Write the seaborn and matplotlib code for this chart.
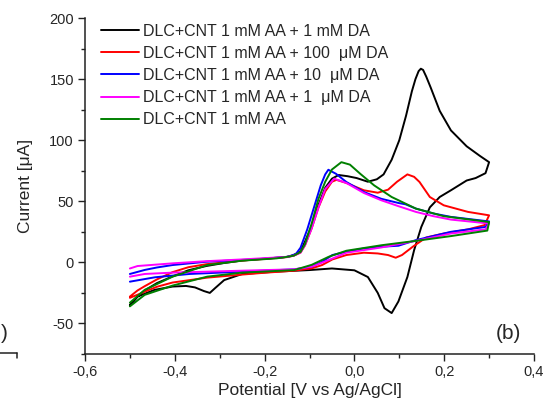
import numpy as np
import pandas as pd
import matplotlib
matplotlib.use("Agg")
import matplotlib.pyplot as plt
from matplotlib.lines import Line2D
from matplotlib.ticker import MultipleLocator, FuncFormatter
import seaborn as sns

# ---------------- data ----------------
labels = [
    "DLC+CNT 1 mM AA + 1 mM DA",
    "DLC+CNT 1 mM AA + 100  μM DA",
    "DLC+CNT 1 mM AA + 10  μM DA",
    "DLC+CNT 1 mM AA + 1  μM DA",
    "DLC+CNT 1 mM AA",
]
colors = ["#000000", "#ff0000", "#0000ff", "#ff00ff", "#008000"]

# 1 mM DA (black)
black_E_fwd = [-0.5, -0.483, -0.467, -0.44, -0.405, -0.37, -0.33, -0.29, -0.25, -0.2, -0.15, -0.135, -0.12,
               -0.11, -0.095, -0.08, -0.065, -0.05, -0.035, -0.015, 0.005, 0.03, 0.05, 0.065, 0.083, 0.1,
               0.115, 0.128, 0.136, 0.143, 0.148, 0.153, 0.16, 0.17, 0.19, 0.215, 0.25, 0.28, 0.3]
black_I_fwd = [-35, -28, -23, -17, -11.5, -6.5, -3, -0.5, 1.5, 3, 4.5, 6, 9,
               17, 30, 47, 61, 68.5, 71.5, 70.5, 69, 66, 68, 72, 84, 100,
               120, 140, 150, 156.5, 158.5, 157.5, 152, 143, 124, 108, 95, 87, 82]
black_E_rev = [0.3, 0.292, 0.27, 0.25, 0.215, 0.19, 0.168, 0.149, 0.133, 0.118, 0.098, 0.083, 0.067,
               0.052, 0.03, 0.0, -0.05, -0.1, -0.175, -0.25, -0.29, -0.31, -0.322, -0.335, -0.355,
               -0.375, -0.405, -0.445, -0.483, -0.5]
black_I_rev = [82, 73, 69, 67, 59, 53.5, 45, 29, 10, -12, -32, -41.5, -37.5,
               -25, -12, -6.5, -5, -6.3, -7.6, -9.5, -14.5, -21, -25, -23.5, -20.5,
               -19.3, -19.8, -22.5, -28, -35]

# 100 uM DA (red)
red_E_fwd = [-0.5, -0.483, -0.467, -0.44, -0.405, -0.37, -0.33, -0.29, -0.25, -0.2, -0.15, -0.135, -0.12,
             -0.11, -0.095, -0.08, -0.065, -0.05, -0.04, -0.018, 0.021, 0.052, 0.075, 0.095, 0.118,
             0.133, 0.145, 0.168, 0.199, 0.253, 0.3]
red_I_fwd = [-28, -23, -19.5, -14, -8, -4, -1.5, 0, 1.5, 2.8, 4.3, 5.5, 8,
             14, 28, 45, 58, 66, 67.5, 65, 59, 57, 59.5, 66, 72,
             70, 65.8, 53.5, 46.7, 41.3, 38.5]
red_E_rev = [0.3, 0.29, 0.253, 0.199, 0.16, 0.13, 0.106, 0.092, 0.075, 0.052, 0.021, -0.018, -0.049,
             -0.072, -0.095, -0.134, -0.2, -0.25, -0.328, -0.405, -0.44, -0.467, -0.483, -0.5]
red_I_rev = [38.5, 30.5, 27, 23.6, 20.4, 12.8, 6, 3.8, 6, 7.3, 7.9, 6, 2.4,
             -2.2, -4.9, -6.8, -8.5, -10, -12.5, -16.5, -20, -24, -26.5, -29]

# 10 uM DA (blue)
blue_E_fwd = [-0.5, -0.467, -0.44, -0.405, -0.33, -0.25, -0.2, -0.15, -0.14, -0.13, -0.12, -0.105, -0.09,
              -0.075, -0.065, -0.058, -0.041, -0.018, 0.021, 0.06, 0.098, 0.114, 0.137, 0.176, 0.215, 0.3]
blue_I_fwd = [-9.5, -6.2, -4.2, -2.2, 0.5, 2, 3, 4.5, 5.5, 7, 12, 27, 45,
              63, 72, 75.8, 72.5, 65.8, 57.6, 52, 48.6, 47.5, 44, 40, 37.2, 33.5]
blue_E_rev = [0.3, 0.292, 0.215, 0.137, 0.098, 0.06, 0.021, -0.018, -0.049, -0.072, -0.095, -0.134,
              -0.25, -0.367, -0.444, -0.5]
blue_I_rev = [33.5, 29, 25, 18.2, 13.6, 12.8, 11.4, 8.7, 6, 0.5, -3.5, -5.7,
              -7.6, -9.5, -12.2, -15.8]

# 1 uM DA (magenta)
mag_E_fwd = [-0.5, -0.483, -0.405, -0.328, -0.25, -0.173, -0.15, -0.135, -0.12, -0.11, -0.095, -0.08,
             -0.065, -0.045, -0.018, 0.021, 0.06, 0.098, 0.137, 0.176, 0.215, 0.3]
mag_I_fwd = [-5, -3, -0.8, 1, 2.4, 4, 4.5, 5.5, 8, 14, 28, 45,
             60, 68.5, 65, 56.8, 50.8, 46, 41.3, 37.8, 35, 31.8]
mag_E_rev = [0.3, 0.292, 0.215, 0.137, 0.06, -0.018, -0.057, -0.095, -0.134, -0.25, -0.405, -0.467, -0.5]
mag_I_rev = [31.8, 27, 23.6, 17.6, 12.2, 7.9, 1.9, -3.5, -5.7, -6.8, -8.4, -9.5, -11.7]

# AA only (green)
green_E_fwd = [-0.5, -0.467, -0.405, -0.328, -0.25, -0.173, -0.15, -0.135, -0.12, -0.11, -0.095, -0.08,
               -0.065, -0.05, -0.029, -0.01, 0.013, 0.044, 0.083, 0.137, 0.199, 0.3]
green_I_fwd = [-33, -22.5, -11.7, -2.2, 1.4, 3.3, 4.5, 5.5, 8.5, 15, 32, 52,
               66, 76, 82, 80, 72.5, 63, 53.5, 44, 37.8, 33]
green_E_rev = [0.3, 0.296, 0.215, 0.137, 0.06, -0.018, -0.057, -0.095, -0.134, -0.25, -0.328, -0.405,
               -0.467, -0.5]
green_I_rev = [33, 26, 21.5, 17.6, 14, 9.5, 4.6, -2, -6.3, -8.4, -11.7, -19, -26.6, -36]

x_ticks = [-0.6, -0.4, -0.2, 0.0, 0.2, 0.4]
y_ticks = [-50, 0, 50, 100, 150, 200]

curves = [
    (black_E_fwd + black_E_rev, black_I_fwd + black_I_rev),
    (red_E_fwd + red_E_rev, red_I_fwd + red_I_rev),
    (blue_E_fwd + blue_E_rev, blue_I_fwd + blue_I_rev),
    (mag_E_fwd + mag_E_rev, mag_I_fwd + mag_I_rev),
    (green_E_fwd + green_E_rev, green_I_fwd + green_I_rev),
]
frames = []
for lab, (E, I) in zip(labels, curves):
    frames.append(pd.DataFrame({"E": E, "I": I, "curve": lab, "order": np.arange(len(E))}))
df = pd.concat(frames, ignore_index=True)

# ---------------- plot ----------------
sns.set_style("ticks")
plt.rcParams["font.family"] = ["Liberation Sans", "DejaVu Sans"]

W, H = 544, 411
fig = plt.figure(figsize=(W / 100, H / 100), dpi=100)
ax = fig.add_axes([85 / W, 1 - 354 / H, (534 - 85) / W, (354 - 18) / H])

sns.lineplot(data=df, x="E", y="I", hue="curve", hue_order=labels, palette=colors,
             sort=False, estimator=None, linewidth=1.4, ax=ax)

ax.set_xlim(-0.6, 0.4)
ax.set_ylim(-75, 200)
ax.set_xticks(x_ticks)
ax.set_yticks(y_ticks)
ax.xaxis.set_minor_locator(MultipleLocator(0.1))
ax.yaxis.set_minor_locator(MultipleLocator(25))
ax.xaxis.set_major_formatter(FuncFormatter(lambda v, p: f"{v:.1f}".replace(".", ",").replace("-0,0", "0,0")))
ax.yaxis.set_major_formatter(FuncFormatter(lambda v, p: f"{v:.0f}"))
ax.tick_params(which="major", length=5, width=1, direction="out", labelsize=10.5, pad=3, color="#222222")
ax.tick_params(which="minor", length=3, width=1, direction="out", color="#222222")
for s in ["top", "right"]:
    ax.spines[s].set_visible(False)
for s in ["left", "bottom"]:
    ax.spines[s].set_linewidth(1.1)
    ax.spines[s].set_color("#222222")

ax.set_xlabel("Potential [V vs Ag/AgCl]", fontsize=12.5)
ax.set_ylabel("Current [μA]", fontsize=12.5)
ax.xaxis.set_label_coords(0.5, (354 - 383) / 336)
ax.yaxis.set_label_coords((33 - 85) / 449, 0.5)

ax.legend(frameon=False, loc="upper left", bbox_to_anchor=(0.035, 0.983), borderpad=0,
          borderaxespad=0, fontsize=11.5, handlelength=2.4, handletextpad=0.25, labelspacing=0.45)

ax.text(0.344, -58.6, "(b)", fontsize=15, ha="center", va="center")

# cropped remainder of neighbouring panel on the left
fig.text(1 / W, 1 - 333 / H, ")", fontsize=15, ha="left", va="center")
fig.add_artist(Line2D([0, 17 / W], [1 - 353 / H, 1 - 353 / H], transform=fig.transFigure,
                      color="#222222", lw=1.1))
fig.add_artist(Line2D([17 / W, 17 / W], [1 - 353 / H, 1 - 358 / H], transform=fig.transFigure,
                      color="#222222", lw=1.1))

fig.savefig("out.png", dpi=100)
